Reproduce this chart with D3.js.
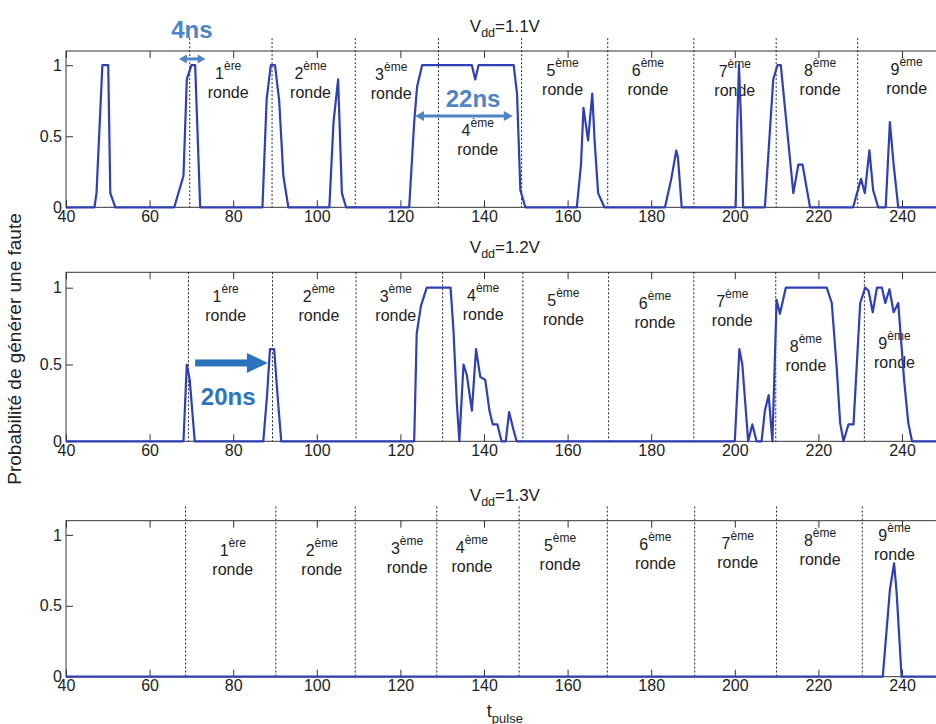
<!DOCTYPE html>
<html><head><meta charset="utf-8">
<script src="https://cdn.jsdelivr.net/npm/d3@7"></script>
<style>
body{margin:0;background:#fff}
svg{display:block}
text{font-family:"Liberation Sans",Arial,Helvetica,sans-serif;fill:#222}
</style>
</head><body>
<svg id="chart" width="936" height="724"></svg>
<script>
// ---------------- DATA ----------------
const xTicks = [40, 60, 80, 100, 120, 140, 160, 180, 200, 220, 240];
const yTicks = [0, 0.5, 1];
const vddValues = ["1.1", "1.2", "1.3"];
const roundNumbers = ["1", "2", "3", "4", "5", "6", "7", "8", "9"];
const roundSuffix = ["ère", "ème", "ème", "ème", "ème", "ème", "ème", "ème", "ème"];
const roundWord = "ronde";

// Vdd = 1.1 V
const t11 = [40, 46.8, 47.3, 48.7, 50.1, 50.6, 51.8,
  65.9, 68.1, 68.9, 70.0, 70.9, 72.1,
  87.0, 88.0, 89.0, 90.0, 91.0, 92.0, 93.2,
  103.0, 104.0, 105.1, 106.0, 107.0,
  122.1, 123.3, 124.0, 125.2, 137.1, 137.9, 138.7, 147.1, 147.9, 148.7, 149.9,
  162.2, 163.2, 163.8, 164.9, 165.9, 166.5, 167.3, 168.8,
  183.3, 184.8, 186.0, 186.4, 187.3,
  200.2, 200.6, 201.0, 201.5, 202.0,
  207.2, 209.2, 210.2, 211.0, 214.0, 215.2, 216.2, 218.0,
  228.3, 230.2, 231.1, 232.2, 233.1, 234.3,
  236.1, 237.1, 238.0, 239.1, 250];
const p11 = [0, 0, 0.1, 1, 1, 0.1, 0,
  0, 0.22, 0.9, 1, 1, 0,
  0, 0.76, 1, 1, 0.75, 0.22, 0,
  0, 0.6, 0.9, 0.1, 0,
  0, 0.6, 0.85, 1, 1, 0.9, 1, 1, 0.8, 0.12, 0,
  0, 0.3, 0.7, 0.47, 0.8, 0.45, 0.1, 0,
  0, 0.2, 0.4, 0.35, 0,
  0, 0.6, 1, 0.6, 0,
  0, 0.9, 1, 1, 0.1, 0.3, 0.3, 0,
  0, 0.2, 0.1, 0.4, 0.12, 0,
  0, 0.6, 0.3, 0, 0];

// Vdd = 1.2 V
const t12 = [40, 68.1, 68.9, 69.6, 70.8,
  87.2, 88.1, 88.8, 89.8, 90.6, 91.5,
  123.3, 123.9, 124.9, 126.3, 132.0, 132.7, 133.5, 134.1, 135.1, 135.9, 137.1,
  138.1, 139.1, 140.3, 141.3, 142.1, 143.2, 144.2, 145.2, 146.0, 147.0, 147.8,
  200.0, 201.1, 201.8, 202.5, 203.2, 204.2, 205.2, 206.4, 207.2, 208.1, 209.0,
  210.0, 210.8, 212.2, 222.0, 223.2, 224.4, 225.2, 226.0, 227.2, 228.4, 230.0,
  231.2, 232.0, 233.0, 234.0, 235.2, 236.0, 237.0, 238.0, 239.1, 240.5, 241.5, 242.4, 250];
const p12 = [0, 0, 0.5, 0.4, 0,
  0, 0.3, 0.6, 0.6, 0.3, 0,
  0, 0.7, 0.88, 1, 1, 0.72, 0.25, 0, 0.5, 0.43, 0.2,
  0.6, 0.42, 0.4, 0.2, 0.11, 0.11, 0, 0, 0.19, 0.08, 0,
  0, 0.6, 0.5, 0.25, 0, 0.11, 0, 0, 0.2, 0.3, 0,
  0.92, 0.83, 1, 1, 0.9, 0.47, 0.12, 0, 0.11, 0.11, 0.9,
  1, 0.98, 0.84, 1, 1, 0.9, 0.99, 0.84, 0.9, 0.4, 0.12, 0, 0];

// Vdd = 1.3 V
const t13 = [40, 235.4, 237.1, 238.1, 238.7, 239.9, 250];
const p13 = [0, 0, 0.61, 0.8, 0.6, 0, 0];

// round boundaries (dotted lines), ns
const bounds11 = [69.6, 89.3, 109.2, 129.1, 149.0, 169.6, 190.2, 209.9, 229.4];
const bounds12 = [69.3, 89.4, 109.4, 130.1, 149.3, 169.8, 190.2, 209.8, 231.0];
const bounds13 = [68.6, 90.2, 109.2, 128.7, 148.4, 169.5, 190.4, 210.0, 230.5];

// round label anchors (ns, probability of the "ronde" line)
const labX11 = [78.8, 98.5, 117.8, 138.5, 158.8, 179.2, 200.0, 220.4, 241.1];
const labY11 = [0.77, 0.77, 0.76, 0.37, 0.79, 0.79, 0.78, 0.79, 0.80];
const labX12 = [78.2, 100.5, 118.9, 139.8, 159.0, 180.9, 199.4, 217.0, 238.2];
const labY12 = [0.78, 0.78, 0.78, 0.79, 0.76, 0.74, 0.75, 0.46, 0.48];
const labX13 = [79.9, 101.2, 121.6, 137.1, 158.2, 181.0, 200.7, 220.4, 238.2];
const labY13 = [0.72, 0.72, 0.73, 0.74, 0.75, 0.76, 0.77, 0.79, 0.82];

// annotations (ns, probability)
const arrow4ns = [67.0, 73.4, 1.044];
const text4ns = ["4ns", 70.1, 1.192];
const arrow22ns = [123.5, 146.9, 0.642];
const text22ns = ["22ns", 137.4, 0.706];
const arrow20ns = [70.9, 88.3, 0.51];
const text20ns = ["20ns", 78.8, 0.236];

const yLabel = "Probabilité de générer une faute";
const xLabelMain = "t";
const xLabelSub = "pulse";

// ---------------- LAYOUT ----------------
const svg = d3.select("#chart");
const x = d3.scaleLinear().domain([40, 250]).range([66, 943.8]);
const panelRanges = [[207.3, 51], [441.3, 272.3], [676.7, 520.7]];
const dividerTops = [1.19, 1.1, 1.2];
const lineColor = "#2f3fb4";
const axisColor = "#333";

const panels = [
  {vdd: vddValues[0], t: t11, p: p11, bounds: bounds11, lx: labX11, ly: labY11},
  {vdd: vddValues[1], t: t12, p: p12, bounds: bounds12, lx: labX12, ly: labY12},
  {vdd: vddValues[2], t: t13, p: p13, bounds: bounds13, lx: labX13, ly: labY13}
];

const yScales = [];
panels.forEach((pd, i) => {
  const y = d3.scaleLinear().domain([0, 1.1]).range(panelRanges[i]);
  yScales.push(y);
  const g = svg.append("g");
  const top = y(1.1), bot = y(0);

  // box
  g.append("rect").attr("x", x(40)).attr("y", top)
    .attr("width", x(250) - x(40)).attr("height", bot - top)
    .attr("fill", "none").attr("stroke", axisColor).attr("stroke-width", 1);

  // bottom axis
  const ax = g.append("g").attr("transform", `translate(0,${bot})`)
    .call(d3.axisBottom(x).tickValues(xTicks).tickSizeInner(-7).tickSizeOuter(0).tickPadding(3));
  // top axis
  const axT = g.append("g").attr("transform", `translate(0,${top})`)
    .call(d3.axisTop(x).tickValues(xTicks).tickSizeInner(-7).tickSizeOuter(0).tickFormat(""));
  // left axis
  const ayL = g.append("g").attr("transform", `translate(${x(40)},0)`)
    .call(d3.axisLeft(y).tickValues(yTicks).tickSizeInner(-7).tickSizeOuter(0).tickPadding(4)
      .tickFormat(d => d === 0 ? "0" : d === 1 ? "1" : "0.5"));
  [ax, axT, ayL].forEach(a => {
    a.select(".domain").remove();
    a.selectAll("line").attr("stroke", axisColor);
    a.selectAll("text").style("font-size", "16px").attr("fill", "#222");
  });

  // dividers
  g.selectAll(".div").data(pd.bounds).enter().append("line")
    .attr("x1", d => x(d)).attr("x2", d => x(d))
    .attr("y1", y(dividerTops[i])).attr("y2", bot)
    .attr("stroke", "#222").attr("stroke-width", 1).attr("stroke-dasharray", "2,2");

  // title
  const tt = g.append("text").attr("x", (x(40) + x(250)) / 2).attr("y", top - 19.5)
    .attr("text-anchor", "middle").style("font-size", "17px");
  tt.append("tspan").text("V");
  tt.append("tspan").attr("dy", 5).style("font-size", "12.5px").text("dd");
  tt.append("tspan").attr("dy", -5).text("=" + pd.vdd + "V");

  // round labels
  roundNumbers.forEach((n, k) => {
    const cx = x(pd.lx[k]), cy = y(pd.ly[k]);
    const t1 = g.append("text").attr("x", cx).attr("y", cy - 19)
      .attr("text-anchor", "middle").style("font-size", "16px");
    t1.append("tspan").text(n);
    t1.append("tspan").attr("dy", -9).style("font-size", "12px").text(roundSuffix[k]);
    g.append("text").attr("x", cx).attr("y", cy).attr("text-anchor", "middle")
      .style("font-size", "16px").text(roundWord);
  });

  // data line
  const pts = pd.t.map((tv, k) => [tv, pd.p[k]]);
  g.append("path").datum(pts)
    .attr("d", d3.line().x(d => x(d[0])).y(d => y(d[1])))
    .attr("fill", "none").attr("stroke", lineColor).attr("stroke-width", 2.2)
    .attr("stroke-linejoin", "round");
});

// ---------------- ANNOTATIONS ----------------
function doubleArrow(y, a, color, w, hl, hh) {
  const x1 = x(a[0]), x2 = x(a[1]), yy = y(a[2]);
  svg.append("line").attr("x1", x1 + hl - 1).attr("x2", x2 - hl + 1)
    .attr("y1", yy).attr("y2", yy).attr("stroke", color).attr("stroke-width", w);
  svg.append("path").attr("d", `M${x1},${yy}L${x1 + hl},${yy - hh / 2}L${x1 + hl},${yy + hh / 2}Z`).attr("fill", color);
  svg.append("path").attr("d", `M${x2},${yy}L${x2 - hl},${yy - hh / 2}L${x2 - hl},${yy + hh / 2}Z`).attr("fill", color);
}
function annText(y, tx, color) {
  svg.append("text").attr("x", x(tx[1])).attr("y", y(tx[2])).attr("text-anchor", "middle")
    .style("font-size", "24px").style("font-weight", "bold").style("fill", color).text(tx[0]);
}
const annColor1 = "#4f84c4", annColor2 = "#2c73bd";
doubleArrow(yScales[0], arrow4ns, annColor1, 3, 8, 9);
annText(yScales[0], text4ns, annColor1);
doubleArrow(yScales[0], arrow22ns, annColor1, 3, 9, 10);
annText(yScales[0], text22ns, annColor1);
// single thick arrow
(function () {
  const y = yScales[1];
  const x1 = x(arrow20ns[0]), x2 = x(arrow20ns[1]), yy = y(arrow20ns[2]);
  const hl = 21, hh = 20, w = 7;
  svg.append("rect").attr("x", x1).attr("y", yy - w / 2).attr("width", x2 - hl - x1 + 1).attr("height", w).attr("fill", annColor2);
  svg.append("path").attr("d", `M${x2},${yy}L${x2 - hl},${yy - hh / 2}L${x2 - hl},${yy + hh / 2}Z`).attr("fill", annColor2);
})();
annText(yScales[1], text20ns, annColor2);

// axis labels
svg.append("text").attr("transform", "translate(21,349) rotate(-90)")
  .attr("text-anchor", "middle").style("font-size", "19px").text(yLabel);
const xl = svg.append("text").attr("x", (x(40) + x(250)) / 2).attr("y", 717)
  .attr("text-anchor", "middle").style("font-size", "18px");
xl.append("tspan").text(xLabelMain);
xl.append("tspan").attr("dy", 6).style("font-size", "13px").text(xLabelSub);
</script>
</body></html>
